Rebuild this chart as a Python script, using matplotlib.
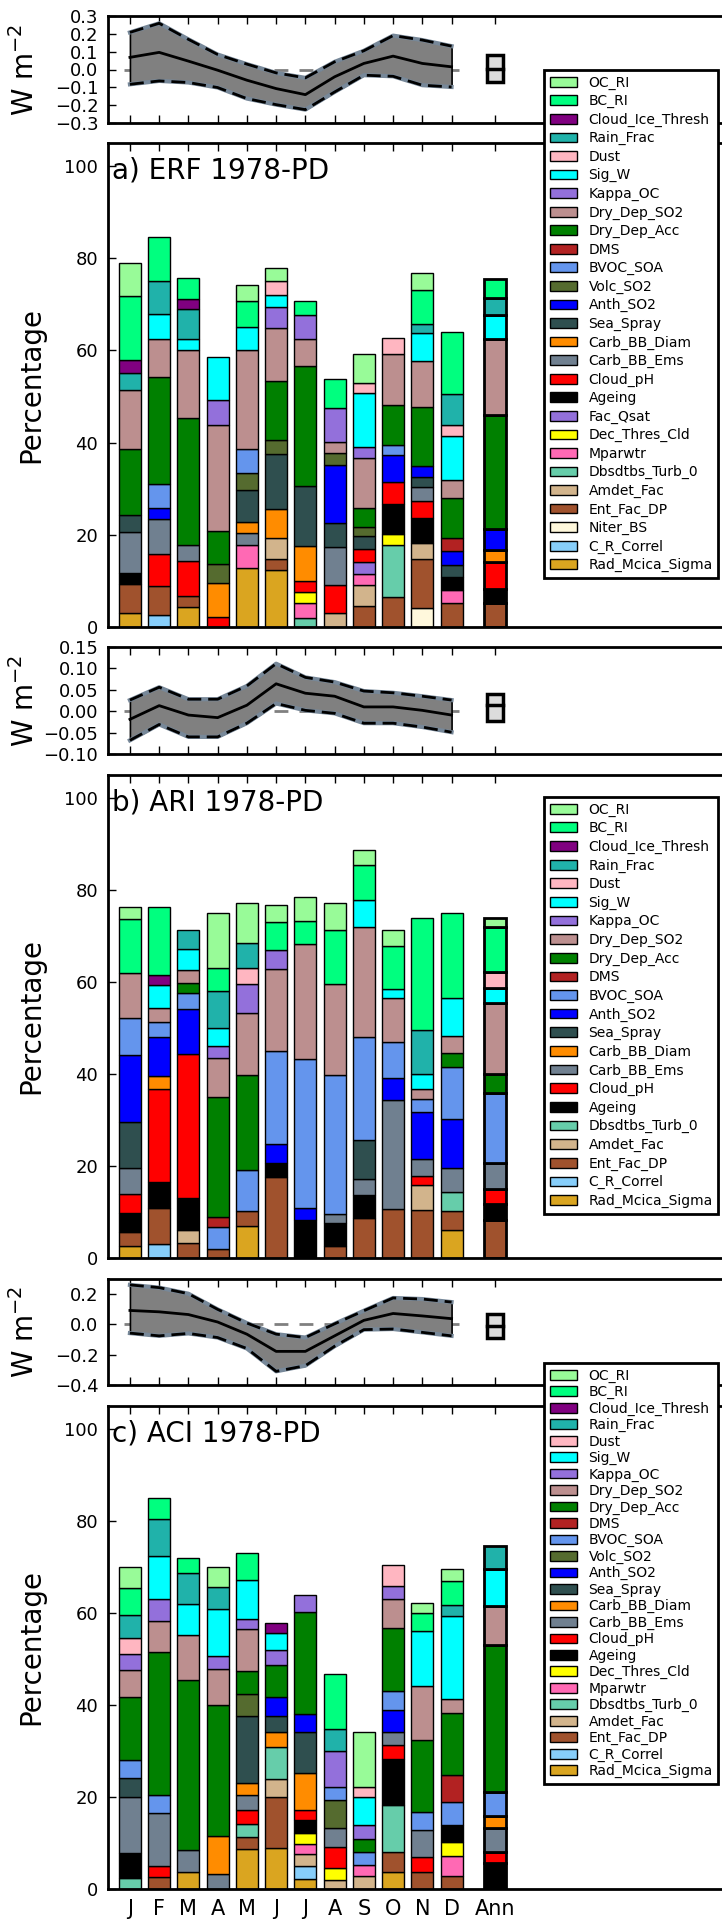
import numpy as np
import matplotlib
matplotlib.use('Agg')
import matplotlib.pyplot as plt
from matplotlib.patches import Patch

months = ['J', 'F', 'M', 'A', 'M', 'J', 'J', 'A', 'S', 'O', 'N', 'D']
xlabels = months + ['Ann']
xpos = list(range(12)) + [12.5]

legend_order = ['OC_RI', 'BC_RI', 'Cloud_Ice_Thresh', 'Rain_Frac', 'Dust', 'Sig_W',
                'Kappa_OC', 'Dry_Dep_SO2', 'Dry_Dep_Acc', 'DMS', 'BVOC_SOA', 'Volc_SO2',
                'Anth_SO2', 'Sea_Spray', 'Carb_BB_Diam', 'Carb_BB_Ems', 'Cloud_pH',
                'Ageing', 'Fac_Qsat', 'Dec_Thres_Cld', 'Mparwtr', 'Dbsdtbs_Turb_0',
                'Amdet_Fac', 'Ent_Fac_DP', 'Niter_BS', 'C_R_Correl', 'Rad_Mcica_Sigma']
param_colors = ['palegreen', 'springgreen', 'purple', 'lightseagreen', 'lightpink', 'cyan',
                'mediumpurple', 'rosybrown', 'green', 'firebrick', 'cornflowerblue',
                'darkolivegreen', 'blue', 'darkslategray', 'darkorange', 'slategray', 'red',
                'black', 'mediumpurple', 'yellow', 'hotpink', 'mediumaquamarine', 'tan',
                'sienna', 'cornsilk', 'lightskyblue', 'goldenrod']
colors = dict(zip(legend_order, param_colors))

# monthly forcing (W m-2): mean and 95% range, plus annual box (low, mean, high)
erf_mean = [0.068, 0.096, 0.047, -0.004, -0.06, -0.107, -0.141, -0.041, 0.034, 0.075, 0.034, 0.015]
erf_hi = [0.208, 0.259, 0.169, 0.084, 0.03, -0.019, -0.047, 0.043, 0.105, 0.19, 0.165, 0.131]
erf_lo = [-0.083, -0.064, -0.073, -0.101, -0.163, -0.197, -0.225, -0.126, -0.032, -0.038, -0.088, -0.098]
erf_ann = [-0.069, 0.003, 0.081]

ari_mean = [-0.019, 0.013, -0.009, -0.015, 0.014, 0.064, 0.042, 0.035, 0.010, 0.010, 0.002, -0.009]
ari_hi = [0.026, 0.056, 0.028, 0.028, 0.059, 0.111, 0.079, 0.068, 0.047, 0.043, 0.035, 0.026]
ari_lo = [-0.068, -0.031, -0.060, -0.060, -0.028, 0.018, 0.002, -0.005, -0.028, -0.028, -0.037, -0.049]
ari_ann = [-0.024, 0.014, 0.040]

aci_mean = [0.09, 0.081, 0.063, 0.014, -0.066, -0.179, -0.179, -0.077, 0.025, 0.07, 0.054, 0.036]
aci_hi = [0.258, 0.24, 0.2, 0.097, 0.007, -0.066, -0.088, 0.002, 0.088, 0.172, 0.165, 0.145]
aci_lo = [-0.059, -0.077, -0.061, -0.088, -0.16, -0.31, -0.273, -0.145, -0.036, -0.032, -0.054, -0.077]
aci_ann = [-0.088, -0.01, 0.066]

# stacked contributions: (parameter, cumulative top %) from the bottom up, J..D then Ann
erf_stacks = [
    [('Rad_Mcica_Sigma', 3.1), ('Ent_Fac_DP', 9.4), ('Ageing', 11.8), ('Carb_BB_Ems', 20.6), ('Sea_Spray', 24.4),
     ('Dry_Dep_Acc', 38.7), ('Dry_Dep_SO2', 51.4), ('Rain_Frac', 55.0), ('Cloud_Ice_Thresh', 57.9), ('BC_RI', 71.9), ('OC_RI', 79.0)],
    [('C_R_Correl', 2.7), ('Ent_Fac_DP', 9.0), ('Cloud_pH', 15.9), ('Carb_BB_Ems', 23.4), ('Anth_SO2', 25.9),
     ('BVOC_SOA', 31.1), ('Dry_Dep_Acc', 54.3), ('Dry_Dep_SO2', 62.4), ('Sig_W', 67.9), ('Rain_Frac', 75.0), ('BC_RI', 84.7)],
    [('Rad_Mcica_Sigma', 4.3), ('Ent_Fac_DP', 6.7), ('Cloud_pH', 14.3), ('Carb_BB_Ems', 17.7), ('Dry_Dep_Acc', 45.4),
     ('Dry_Dep_SO2', 60.1), ('Sig_W', 62.5), ('Rain_Frac', 68.9), ('Cloud_Ice_Thresh', 71.1), ('BC_RI', 75.8)],
    [('Cloud_pH', 2.2), ('Carb_BB_Diam', 9.6), ('Volc_SO2', 13.7), ('Dry_Dep_Acc', 20.8), ('Dry_Dep_SO2', 43.9),
     ('Kappa_OC', 49.2), ('Sig_W', 58.5)],
    [('Rad_Mcica_Sigma', 12.9), ('Mparwtr', 17.7), ('Carb_BB_Ems', 20.4), ('Carb_BB_Diam', 22.8), ('Sea_Spray', 29.8),
     ('Volc_SO2', 33.5), ('BVOC_SOA', 38.7), ('Dry_Dep_SO2', 60.1), ('Sig_W', 65.1), ('BC_RI', 70.7), ('OC_RI', 74.3)],
    [('Rad_Mcica_Sigma', 12.3), ('Ent_Fac_DP', 14.7), ('Amdet_Fac', 19.4), ('Carb_BB_Diam', 25.5), ('Sea_Spray', 37.5),
     ('Volc_SO2', 40.5), ('Dry_Dep_Acc', 53.3), ('Dry_Dep_SO2', 64.9), ('Kappa_OC', 69.5), ('Sig_W', 72.1),
     ('Dust', 75.0), ('OC_RI', 77.8)],
    [('Dbsdtbs_Turb_0', 2.0), ('Mparwtr', 5.3), ('Dec_Thres_Cld', 7.7), ('Cloud_pH', 9.9), ('Carb_BB_Diam', 17.6),
     ('Sea_Spray', 30.5), ('Dry_Dep_Acc', 56.6), ('Dry_Dep_SO2', 62.4), ('Kappa_OC', 67.7), ('BC_RI', 70.8)],
    [('Amdet_Fac', 3.1), ('Cloud_pH', 9.2), ('Carb_BB_Ems', 17.4), ('Sea_Spray', 22.6), ('Anth_SO2', 35.1),
     ('Volc_SO2', 37.8), ('Dry_Dep_SO2', 40.2), ('Kappa_OC', 47.5), ('BC_RI', 53.7)],
    [('Ent_Fac_DP', 4.6), ('Amdet_Fac', 9.2), ('Mparwtr', 11.6), ('Fac_Qsat', 14.0), ('Cloud_pH', 17.0),
     ('Sea_Spray', 19.8), ('Volc_SO2', 21.7), ('Dry_Dep_Acc', 25.8), ('Dry_Dep_SO2', 36.7), ('Kappa_OC', 39.1),
     ('Sig_W', 50.7), ('Dust', 53.0), ('OC_RI', 59.3)],
    [('Ent_Fac_DP', 6.4), ('Dbsdtbs_Turb_0', 17.7), ('Dec_Thres_Cld', 20.1), ('Ageing', 26.6), ('Cloud_pH', 31.5),
     ('Anth_SO2', 37.4), ('BVOC_SOA', 39.4), ('Dry_Dep_Acc', 48.1), ('Dry_Dep_SO2', 59.3), ('Dust', 62.8)],
    [('Niter_BS', 4.2), ('Ent_Fac_DP', 14.7), ('Amdet_Fac', 18.2), ('Ageing', 23.7), ('Cloud_pH', 27.3),
     ('Carb_BB_Ems', 30.4), ('Sea_Spray', 32.6), ('Anth_SO2', 34.9), ('Dry_Dep_Acc', 47.8), ('Dry_Dep_SO2', 57.7),
     ('Sig_W', 63.7), ('Rain_Frac', 65.8), ('BC_RI', 73.1), ('OC_RI', 76.9)],
    [('Ent_Fac_DP', 5.3), ('Mparwtr', 8.1), ('Ageing', 10.9), ('Sea_Spray', 13.5), ('Anth_SO2', 16.5),
     ('DMS', 19.3), ('Dry_Dep_Acc', 27.9), ('Dry_Dep_SO2', 31.8), ('Sig_W', 41.4), ('Dust', 43.8),
     ('Rain_Frac', 50.5), ('BC_RI', 64.0)],
    [('Ent_Fac_DP', 5.2), ('Ageing', 8.3), ('Cloud_pH', 14.0), ('Carb_BB_Diam', 16.8), ('Anth_SO2', 21.3),
     ('Dry_Dep_Acc', 45.9), ('Dry_Dep_SO2', 62.4), ('Sig_W', 67.7), ('Rain_Frac', 71.3), ('BC_RI', 75.6)],
]

ari_stacks = [
    [('Rad_Mcica_Sigma', 2.5), ('Ent_Fac_DP', 5.6), ('Ageing', 9.8), ('Cloud_pH', 14.0), ('Carb_BB_Ems', 19.6),
     ('Sea_Spray', 29.5), ('Anth_SO2', 44.0), ('BVOC_SOA', 52.1), ('Dry_Dep_SO2', 62.0), ('BC_RI', 73.7), ('OC_RI', 76.2)],
    [('C_R_Correl', 3.1), ('Ent_Fac_DP', 10.9), ('Ageing', 16.4), ('Cloud_pH', 36.8), ('Carb_BB_Diam', 39.5),
     ('Anth_SO2', 47.9), ('BVOC_SOA', 51.3), ('Dry_Dep_SO2', 54.2), ('Sig_W', 59.3), ('Cloud_Ice_Thresh', 61.4), ('BC_RI', 76.2)],
    [('Ent_Fac_DP', 3.3), ('Amdet_Fac', 6.0), ('Ageing', 13.1), ('Cloud_pH', 44.4), ('Anth_SO2', 54.0),
     ('BVOC_SOA', 57.6), ('Dry_Dep_Acc', 59.8), ('Dry_Dep_SO2', 62.5), ('Sig_W', 67.2), ('Rain_Frac', 71.2)],
    [('Ent_Fac_DP', 2.0), ('BVOC_SOA', 6.7), ('DMS', 8.9), ('Dry_Dep_Acc', 35.0), ('Dry_Dep_SO2', 43.5),
     ('Kappa_OC', 46.0), ('Sig_W', 50.0), ('Rain_Frac', 58.0), ('BC_RI', 62.9), ('OC_RI', 75.0)],
    [('Rad_Mcica_Sigma', 6.9), ('Ent_Fac_DP', 10.1), ('BVOC_SOA', 19.2), ('Dry_Dep_Acc', 39.8), ('Dry_Dep_SO2', 53.2),
     ('Kappa_OC', 59.4), ('Dust', 63.0), ('Rain_Frac', 68.3), ('OC_RI', 77.0)],
    [('Ent_Fac_DP', 17.6), ('Ageing', 20.6), ('Anth_SO2', 24.7), ('BVOC_SOA', 44.9), ('Dry_Dep_SO2', 62.7),
     ('Kappa_OC', 66.8), ('BC_RI', 73.0), ('OC_RI', 76.6)],
    [('Ageing', 8.2), ('Anth_SO2', 10.9), ('BVOC_SOA', 43.2), ('Dry_Dep_SO2', 68.1), ('BC_RI', 73.1), ('OC_RI', 78.4)],
    [('Ent_Fac_DP', 2.6), ('Ageing', 7.7), ('Carb_BB_Ems', 9.6), ('BVOC_SOA', 39.8), ('Dry_Dep_SO2', 59.4),
     ('BC_RI', 71.2), ('OC_RI', 77.1)],
    [('Ent_Fac_DP', 8.7), ('Ageing', 13.6), ('Carb_BB_Ems', 17.2), ('Sea_Spray', 25.7), ('BVOC_SOA', 48.0),
     ('Dry_Dep_SO2', 71.9), ('Sig_W', 77.7), ('BC_RI', 85.4), ('OC_RI', 88.6)],
    [('Ent_Fac_DP', 10.6), ('Carb_BB_Ems', 34.4), ('Anth_SO2', 39.0), ('BVOC_SOA', 46.9), ('Dry_Dep_SO2', 56.5),
     ('Sig_W', 58.5), ('BC_RI', 67.8), ('OC_RI', 71.2)],
    [('Ent_Fac_DP', 10.4), ('Amdet_Fac', 15.8), ('Cloud_pH', 17.8), ('Carb_BB_Ems', 21.6), ('Anth_SO2', 31.6),
     ('BVOC_SOA', 34.6), ('Dry_Dep_SO2', 36.8), ('Sig_W', 40.0), ('Rain_Frac', 49.5), ('BC_RI', 73.9)],
    [('Rad_Mcica_Sigma', 6.0), ('Ent_Fac_DP', 10.1), ('Dbsdtbs_Turb_0', 14.3), ('Carb_BB_Ems', 19.6), ('Anth_SO2', 30.1),
     ('BVOC_SOA', 41.5), ('Dry_Dep_Acc', 44.5), ('Dry_Dep_SO2', 48.2), ('Sig_W', 56.5), ('BC_RI', 74.9)],
    [('Ent_Fac_DP', 8.2), ('Ageing', 11.7), ('Cloud_pH', 14.9), ('Carb_BB_Ems', 20.6), ('BVOC_SOA', 35.9),
     ('Dry_Dep_Acc', 40.0), ('Dry_Dep_SO2', 55.4), ('Sig_W', 58.7), ('Dust', 62.1), ('BC_RI', 71.9), ('OC_RI', 73.9)],
]

aci_stacks = [
    [('Dbsdtbs_Turb_0', 2.3), ('Ageing', 7.9), ('Carb_BB_Ems', 20.0), ('Sea_Spray', 24.0), ('BVOC_SOA', 28.1),
     ('Dry_Dep_Acc', 41.7), ('Dry_Dep_SO2', 47.6), ('Kappa_OC', 51.1), ('Dust', 54.5), ('Rain_Frac', 59.4),
     ('BC_RI', 65.4), ('OC_RI', 69.9)],
    [('Ent_Fac_DP', 2.7), ('Cloud_pH', 5.0), ('Carb_BB_Ems', 16.5), ('BVOC_SOA', 20.4), ('Dry_Dep_Acc', 51.4),
     ('Dry_Dep_SO2', 58.2), ('Kappa_OC', 63.0), ('Sig_W', 72.3), ('Rain_Frac', 80.3), ('BC_RI', 84.9)],
    [('Rad_Mcica_Sigma', 3.6), ('Carb_BB_Ems', 8.5), ('Dry_Dep_Acc', 45.3), ('Dry_Dep_SO2', 55.1), ('Sig_W', 61.9),
     ('Rain_Frac', 68.6), ('BC_RI', 71.8)],
    [('Carb_BB_Ems', 3.2), ('Carb_BB_Diam', 11.6), ('Dry_Dep_Acc', 39.9), ('Dry_Dep_SO2', 47.8), ('Kappa_OC', 50.5),
     ('Sig_W', 60.7), ('Rain_Frac', 65.5), ('OC_RI', 69.9)],
    [('Rad_Mcica_Sigma', 8.6), ('Ent_Fac_DP', 11.2), ('Dbsdtbs_Turb_0', 14.2), ('Cloud_pH', 17.1), ('Carb_BB_Ems', 20.5),
     ('Carb_BB_Diam', 23.1), ('Sea_Spray', 37.5), ('Volc_SO2', 42.4), ('Dry_Dep_Acc', 47.3), ('Dry_Dep_SO2', 56.5),
     ('Kappa_OC', 58.7), ('Sig_W', 67.1), ('BC_RI', 73.0)],
    [('Rad_Mcica_Sigma', 8.8), ('Ent_Fac_DP', 19.9), ('Amdet_Fac', 23.8), ('Dbsdtbs_Turb_0', 30.9), ('Carb_BB_Diam', 34.1),
     ('Sea_Spray', 37.5), ('Anth_SO2', 41.7), ('Dry_Dep_Acc', 48.7), ('Kappa_OC', 51.9), ('Sig_W', 55.6),
     ('Cloud_Ice_Thresh', 57.7)],
    [('Rad_Mcica_Sigma', 2.2), ('C_R_Correl', 5.1), ('Amdet_Fac', 7.6), ('Mparwtr', 9.7), ('Dec_Thres_Cld', 12.1),
     ('Ageing', 15.0), ('Cloud_pH', 17.1), ('Carb_BB_Diam', 25.2), ('Sea_Spray', 34.1), ('Anth_SO2', 37.9),
     ('Dry_Dep_Acc', 60.1), ('Kappa_OC', 63.9)],
    [('Amdet_Fac', 2.0), ('Dec_Thres_Cld', 4.5), ('Cloud_pH', 9.2), ('Carb_BB_Ems', 13.2), ('Volc_SO2', 19.4),
     ('BVOC_SOA', 22.2), ('Kappa_OC', 29.9), ('Rain_Frac', 34.8), ('BC_RI', 46.7)],
    [('Amdet_Fac', 2.9), ('Mparwtr', 5.2), ('BVOC_SOA', 8.1), ('Dry_Dep_Acc', 10.8), ('Kappa_OC', 13.9),
     ('Sig_W', 20.0), ('Dust', 22.2), ('OC_RI', 34.0)],
    [('Rad_Mcica_Sigma', 3.6), ('Ent_Fac_DP', 8.1), ('Dbsdtbs_Turb_0', 18.2), ('Ageing', 28.3), ('Cloud_pH', 31.2),
     ('Carb_BB_Ems', 34.0), ('Anth_SO2', 38.9), ('BVOC_SOA', 43.0), ('Dry_Dep_Acc', 56.7), ('Dry_Dep_SO2', 63.0),
     ('Kappa_OC', 65.9), ('Dust', 70.4)],
    [('Ent_Fac_DP', 3.8), ('Cloud_pH', 7.0), ('Carb_BB_Ems', 12.8), ('BVOC_SOA', 16.8), ('Dry_Dep_Acc', 32.3),
     ('Dry_Dep_SO2', 44.0), ('Sig_W', 56.1), ('BC_RI', 59.9), ('OC_RI', 62.1)],
    [('Ent_Fac_DP', 2.9), ('Mparwtr', 7.2), ('Dec_Thres_Cld', 10.1), ('Ageing', 13.9), ('BVOC_SOA', 18.8),
     ('DMS', 24.7), ('Dry_Dep_Acc', 38.3), ('Dry_Dep_SO2', 41.2), ('Sig_W', 59.2), ('Rain_Frac', 61.6),
     ('BC_RI', 66.8), ('OC_RI', 69.4)],
    [('Ageing', 5.7), ('Cloud_pH', 8.1), ('Carb_BB_Ems', 13.2), ('Carb_BB_Diam', 15.9), ('BVOC_SOA', 21.1),
     ('Dry_Dep_Acc', 53.0), ('Dry_Dep_SO2', 61.4), ('Sig_W', 69.5), ('Rain_Frac', 74.4)],
]

W, H = 722, 1921
fig = plt.figure(figsize=(W / 100, H / 100), dpi=100)

x0 = 108 / W
width = 22.75 * 29.24 / W


def ax_at(top_px, bottom_px):
    return fig.add_axes([x0, 1 - bottom_px / H, width, (bottom_px - top_px) / H])


def style(ax):
    for s in ax.spines.values():
        s.set_linewidth(2)
    ax.tick_params(direction='in', top=True, right=True, length=6, width=1, labelsize=13, pad=7)
    ax.set_xlim(-0.75, 22)
    ax.set_xticks(xpos)


def line_panel(ax, mean, hi, lo, ann, ylim, yticks, fmt):
    style(ax)
    ax.plot([-0.2, 11.25], [0, 0], '--', color='grey', lw=2, dashes=(5, 4), zorder=1)
    x = np.arange(12)
    ax.fill_between(x, lo, hi, facecolor='grey', edgecolor='k', lw=1.2, zorder=2)
    for b in (hi, lo):
        ax.plot(x, b, color='lightslategray', lw=3, zorder=3)
        ax.plot(x, b, color='k', lw=2, dashes=(5, 2.5), zorder=4)
    ax.plot(x, mean, color='k', lw=2, zorder=5)
    ax.bar(12.5, ann[2] - ann[0], bottom=ann[0], width=0.55, color='gainsboro',
           edgecolor='k', lw=2.5, zorder=3)
    ax.plot([12.225, 12.775], [ann[1], ann[1]], color='k', lw=2.5, zorder=4)
    ax.set_ylim(*ylim)
    ax.set_yticks(yticks)
    ax.set_yticklabels([fmt.format(v).replace('-', '\u2212') for v in yticks])
    ax.set_xticklabels([])
    ax.set_ylabel('W m$^{-2}$', fontsize=20)
    ax.yaxis.set_label_coords(-0.102, 0.5)


def bar_panel(ax, stacks, title, leg_top_px, spacing, show_x):
    style(ax)
    present = set()
    for x, stack in zip(xpos, stacks):
        names = [n for n, _ in stack]
        tops = np.array([t for _, t in stack])
        heights = np.diff(np.concatenate([[0], tops]))
        lw = 2 if x == 12.5 else 1
        ax.bar(x, heights, bottom=tops - heights, width=0.75,
               color=[colors[n] for n in names], edgecolor='k', linewidth=lw, zorder=2)
        present.update(names)
    ax.set_ylim(0, 105)
    ax.set_yticks([0, 20, 40, 60, 80, 100])
    ax.set_ylabel('Percentage', fontsize=20)
    ax.yaxis.set_label_coords(-0.095, 0.5)
    ax.text(0.006, 0.972, title, transform=ax.transAxes, fontsize=20, va='top', ha='left')
    if show_x:
        ax.set_xticklabels(xlabels, fontsize=15)
    else:
        ax.set_xticklabels([])
    handles = [Patch(facecolor=colors[n], edgecolor='k', label=n) for n in legend_order if n in present]
    leg = ax.legend(handles=handles, loc='upper left', bbox_to_anchor=(544 / W, 1 - leg_top_px / H),
                    bbox_transform=fig.transFigure, fontsize=10, labelspacing=spacing,
                    borderaxespad=0, fancybox=False, framealpha=1)
    leg.get_frame().set_edgecolor('k')
    leg.get_frame().set_linewidth(2)
    leg.set_zorder(10)


ax1 = ax_at(16, 123)
line_panel(ax1, erf_mean, erf_hi, erf_lo, erf_ann, (-0.3, 0.3), np.round(np.arange(-0.3, 0.31, 0.1), 1), '{:.1f}')
ax2 = ax_at(143, 627)
bar_panel(ax2, erf_stacks, 'a) ERF 1978-PD', 70, 0.32, False)

ax3 = ax_at(647, 754)
line_panel(ax3, ari_mean, ari_hi, ari_lo, ari_ann, (-0.1, 0.15), np.round(np.arange(-0.1, 0.151, 0.05), 2), '{:.2f}')
ax4 = ax_at(774.5, 1258)
bar_panel(ax4, ari_stacks, 'b) ARI 1978-PD', 797, 0.325, False)

ax5 = ax_at(1278.5, 1385)
line_panel(ax5, aci_mean, aci_hi, aci_lo, aci_ann, (-0.4, 0.3), np.round(np.arange(-0.4, 0.21, 0.2), 1), '{:.1f}')
ax6 = ax_at(1405.5, 1889)
bar_panel(ax6, aci_stacks, 'c) ACI 1978-PD', 1363, 0.17, True)

fig.savefig('out.png', dpi=100)
